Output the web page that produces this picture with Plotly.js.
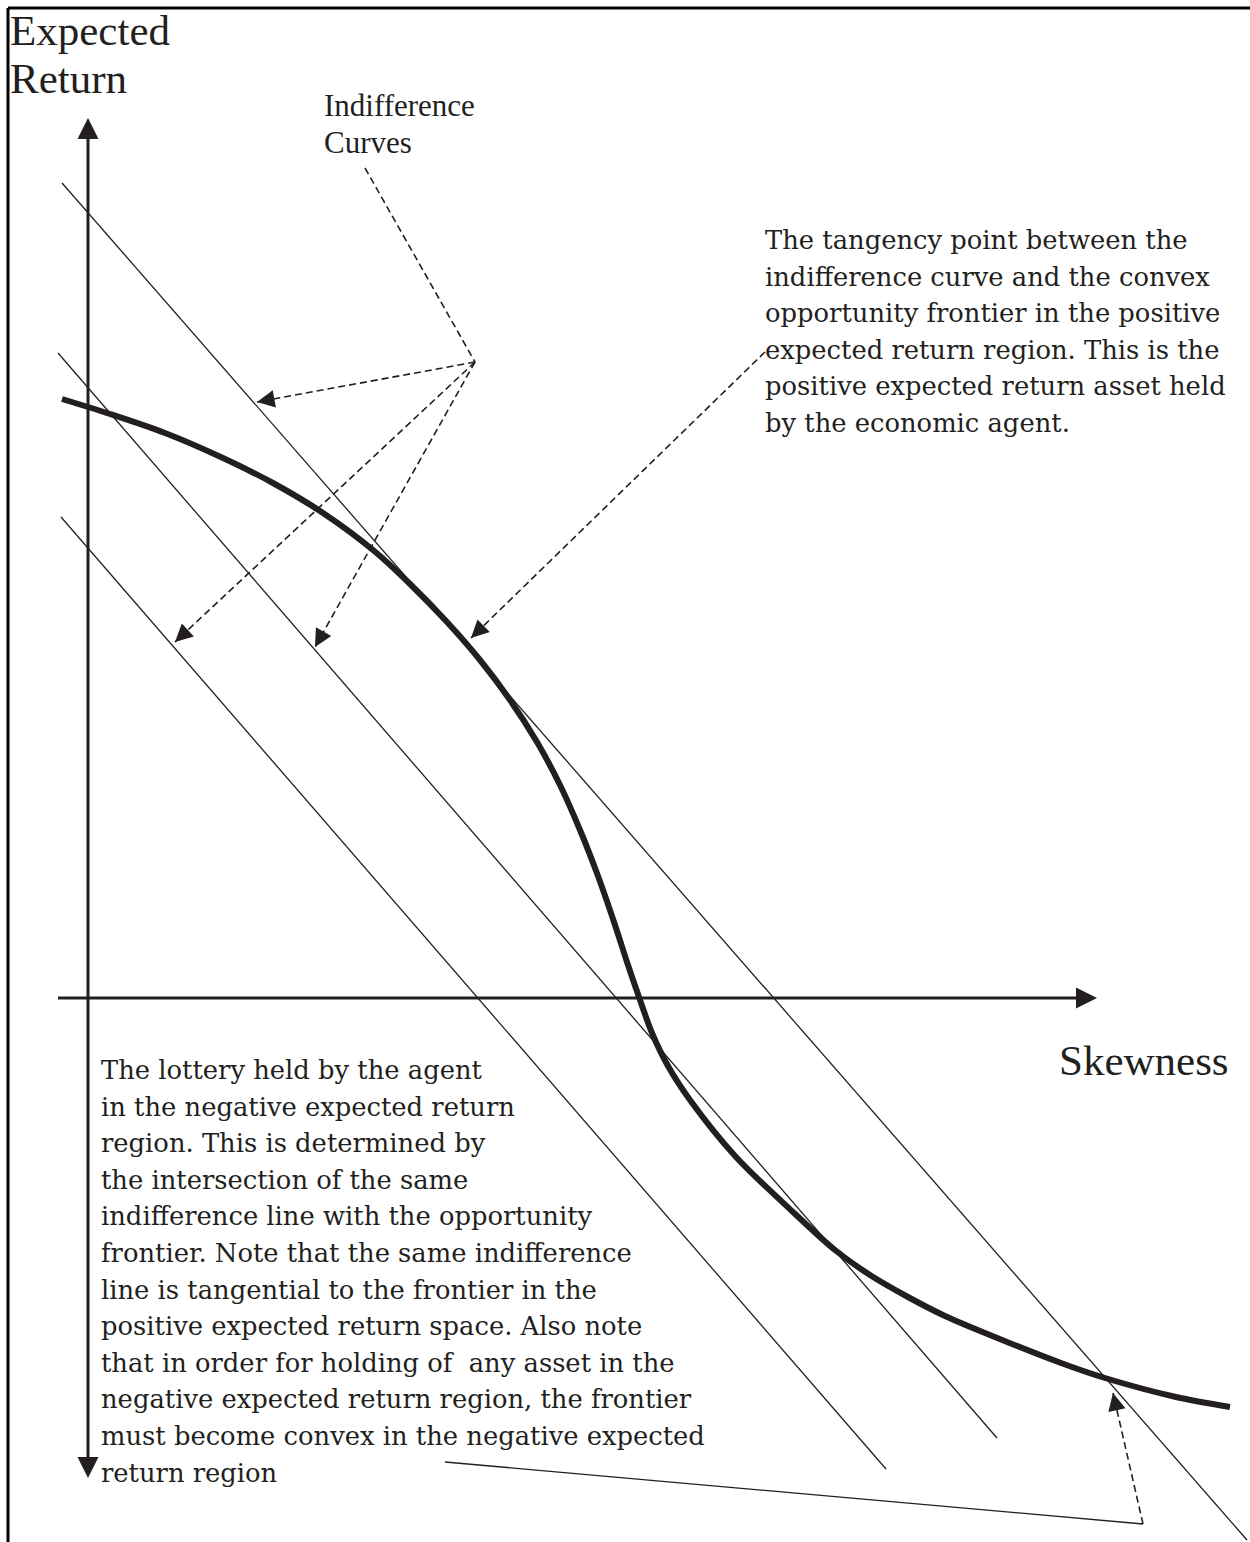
<!DOCTYPE html>
<html>
<head>
<meta charset="utf-8">
<script src="https://cdn.plot.ly/plotly-3.0.1.min.js"></script>
<style>html,body{margin:0;padding:0;background:#fff;}#chart{width:1250px;height:1542px;}</style>
</head>
<body>
<div id="chart"></div>
<script>
// Opportunity frontier (skewness, expected return) in drawing units
const frontierX = [62, 110, 165, 223, 273, 323, 373, 410, 447, 480, 510, 537, 560, 580, 598, 614, 628, 640, 652, 668, 690, 736, 793, 835, 870, 908, 945, 985, 1061, 1105, 1176, 1230];
const frontierY = [399, 414, 433, 458, 483, 513, 550, 584, 622, 660, 700, 742, 785, 830, 876, 922, 965, 1000, 1033, 1066, 1100, 1157, 1212, 1250, 1275, 1297, 1316, 1333, 1363, 1378, 1397, 1407];

// Three indifference lines (end points)
const indiffX = [[62, 1247], [58, 997], [61, 886]];
const indiffY = [[183, 1540], [353, 1438], [517, 1469]];

// Axes (origin and arrow tips)
const axisOrigin = [88, 998];
const axisYTop = 118, axisYBottom = 1478, axisXLeft = 58, axisXRight = 1097;

// Pointer lines
const pointerFromX = [365, 475, 475, 475, 765, 1143];
const pointerFromY = [168, 362, 362, 362, 352, 1524];
const pointerToX   = [475, 257, 175, 315, 471, 1113];
const pointerToY   = [362, 402, 642, 647, 638, 1393];
const pointerArrow = [false, true, true, true, true, true];
const leaderX = [445, 1143], leaderY = [1462, 1524];

// Text
const yTitleLines = ["Expected", "Return"];
const xTitle = "Skewness";
const curvesLabel = ["Indifference", "Curves"];
const rightNote = [
  "The tangency point between the",
  "indifference curve and the convex",
  "opportunity frontier in the positive",
  "expected return region. This is the",
  "positive expected return asset held",
  "by the economic agent."
];
const leftNote = [
  "The lottery held by the agent",
  "in the negative expected return",
  "region. This is determined by",
  "the intersection of the same",
  "indifference line with the opportunity",
  "frontier. Note that the same indifference",
  "line is tangential to the frontier in the",
  "positive expected return space. Also note",
  "that in order for holding of  any asset in the",
  "negative expected return region, the frontier",
  "must become convex in the negative expected",
  "return region"
];

const INK = '#231f20';
const bodyFont = {family: 'DejaVu Serif, serif', size: 25.8, color: INK};
const titleFont = {family: 'Liberation Serif, Times New Roman, serif', size: 43, color: INK};
const labelFont = {family: 'Liberation Serif, Times New Roman, serif', size: 31, color: INK};

const traces = [];
for (let i = 0; i < indiffX.length; i++) {
  traces.push({x: indiffX[i], y: indiffY[i], mode: 'lines', line: {color: INK, width: 1.3}, hoverinfo: 'skip'});
}
traces.push({x: frontierX, y: frontierY, mode: 'lines', line: {color: INK, width: 6, shape: 'spline', smoothing: 0.9}, hoverinfo: 'skip'});
traces.push({x: [axisOrigin[0], axisOrigin[0]], y: [axisYBottom - 8, axisYTop + 8], mode: 'lines', line: {color: INK, width: 3}, hoverinfo: 'skip'});
traces.push({x: [axisXLeft, axisXRight - 8], y: [axisOrigin[1], axisOrigin[1]], mode: 'lines', line: {color: INK, width: 3}, hoverinfo: 'skip'});
for (let i = 0; i < pointerFromX.length; i++) {
  traces.push({x: [pointerFromX[i], pointerToX[i]], y: [pointerFromY[i], pointerToY[i]], mode: 'lines',
    line: {color: INK, width: 1.6, dash: '7px,4px'}, hoverinfo: 'skip'});
}
traces.push({x: leaderX, y: leaderY, mode: 'lines', line: {color: INK, width: 1.3}, hoverinfo: 'skip'});

const annotations = [];
function arrowHead(tx, ty, fx, fy, w, s) {
  const dx = fx - tx, dy = fy - ty, L = Math.hypot(dx, dy);
  annotations.push({x: tx, y: ty, ax: tx + dx / L * 14, ay: ty + dy / L * 14, xref: 'x', yref: 'y', axref: 'x', ayref: 'y',
    text: '', showarrow: true, arrowhead: 2, arrowsize: s, arrowwidth: w, arrowcolor: INK, standoff: 0, startstandoff: 0});
}
for (let i = 0; i < pointerFromX.length; i++) {
  if (pointerArrow[i]) arrowHead(pointerToX[i], pointerToY[i], pointerFromX[i], pointerFromY[i], 1.6, 2.2);
}
arrowHead(axisOrigin[0], axisYTop, axisOrigin[0], axisYTop + 40, 3, 1.4);
arrowHead(axisOrigin[0], axisYBottom, axisOrigin[0], axisYBottom - 40, 3, 1.4);
arrowHead(axisXRight, axisOrigin[1], axisXRight - 40, axisOrigin[1], 3, 1.4);

function textAt(t, x, y, font) {
  annotations.push({x: x, y: y, xref: 'x', yref: 'y', text: t, showarrow: false, xanchor: 'left', yanchor: 'middle', font: font});
}
textAt(yTitleLines[0], 8, 30, titleFont);
textAt(yTitleLines[1], 8, 78, titleFont);
textAt(xTitle, 1057, 1060, titleFont);
textAt(curvesLabel[0], 322, 105, labelFont);
textAt(curvesLabel[1], 322, 142, labelFont);
rightNote.forEach((t, i) => textAt(t, 763, 240 + i * 36.5, bodyFont));
leftNote.forEach((t, i) => textAt(t, 99, 1070 + i * 36.6, bodyFont));

const layout = {
  width: 1250, height: 1542,
  margin: {l: 0, r: 0, t: 0, b: 0},
  paper_bgcolor: '#ffffff', plot_bgcolor: '#ffffff',
  showlegend: false,
  xaxis: {range: [0, 1250], visible: false, fixedrange: true},
  yaxis: {range: [1542, 0], visible: false, fixedrange: true},
  shapes: [
    {type: 'line', xref: 'x', yref: 'y', x0: 8, y0: 8, x1: 1250, y1: 8, line: {color: '#000', width: 3}},
    {type: 'line', xref: 'x', yref: 'y', x0: 8, y0: 8, x1: 8, y1: 1542, line: {color: '#000', width: 3}}
  ],
  annotations: annotations
};
Plotly.newPlot('chart', traces, layout, {displayModeBar: false, staticPlot: true});
</script>
</body>
</html>
